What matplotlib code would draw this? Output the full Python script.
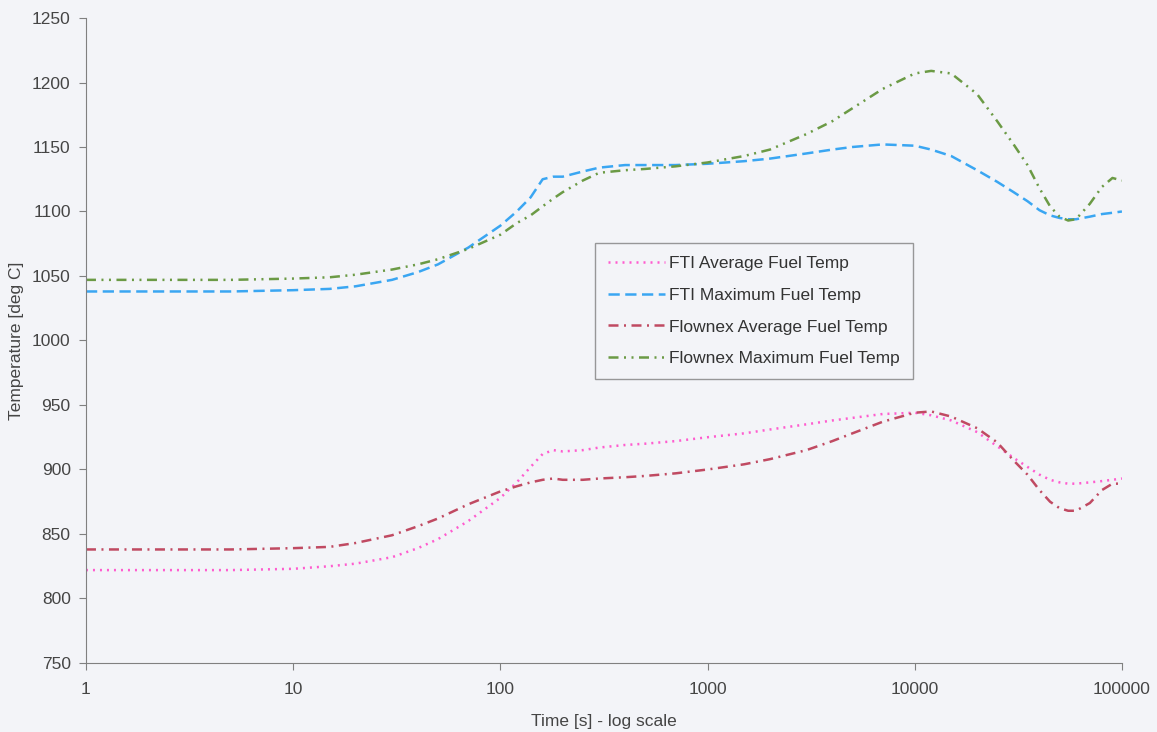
import matplotlib.pyplot as plt

plt.rcParams['font.family'] = ['Liberation Sans', 'DejaVu Sans']

# time points [s]
t = [1, 2, 5, 10, 15, 20, 30, 40, 50, 70, 100, 120, 140, 160, 180, 200, 250, 300,
     400, 500, 700, 1000, 1500, 2000, 3000, 4000, 5000, 7000, 10000, 12000, 15000,
     20000, 25000, 30000, 35000, 40000, 45000, 50000, 55000, 60000, 70000, 80000,
     90000, 100000]

fti_avg = [822, 822, 822, 823, 825, 827, 832, 839, 846, 860, 878, 890, 902, 912,
           915, 914, 915, 917, 919, 920, 922, 925, 928, 931, 935, 938, 940, 943,
           944, 942, 938, 929, 918, 909, 902, 896, 892, 890, 889, 889, 890, 891,
           892, 893]
fti_max = [1038, 1038, 1038, 1039, 1040, 1042, 1047, 1053, 1059, 1072, 1089, 1100,
           1111, 1125, 1127, 1127, 1131, 1134, 1136, 1136, 1136, 1137, 1139, 1141,
           1145, 1148, 1150, 1152, 1151, 1148, 1143, 1132, 1123, 1115, 1108, 1101,
           1097, 1095, 1094, 1094, 1096, 1098, 1099, 1100]
flx_avg = [838, 838, 838, 839, 840, 843, 849, 856, 862, 873, 883, 887, 890, 892,
           893, 892, 892, 893, 894, 895, 897, 900, 904, 908, 915, 922, 928, 937,
           944, 945, 941, 932, 921, 907, 896, 884, 875, 870, 868, 868, 874, 884,
           889, 889]
flx_max = [1047, 1047, 1047, 1048, 1049, 1051, 1055, 1059, 1063, 1071, 1082, 1091,
           1097, 1104, 1110, 1115, 1124, 1130, 1132, 1133, 1135, 1138, 1143, 1148,
           1160, 1170, 1180, 1195, 1207, 1209, 1207, 1191, 1170, 1152, 1136, 1118,
           1104, 1096, 1093, 1094, 1106, 1119, 1126, 1124]

xticks = [1, 10, 100, 1000, 10000, 100000]
yticks = list(range(750, 1251, 50))

bg = '#f3f4f8'
fs = 12.5
fig = plt.figure(figsize=(11.57, 7.32), dpi=100, facecolor=bg)
ax = fig.add_axes([0.0743, 0.0943, 0.8954, 0.8811], facecolor=bg)

ax.plot(t, fti_avg, color='#ff5ccf', lw=1.8, dashes=(0.8, 2.0),
        label='FTI Average Fuel Temp')
ax.plot(t, fti_max, color='#3aa6f2', lw=1.8, dashes=(4.5, 2.2),
        label='FTI Maximum Fuel Temp')
ax.plot(t, flx_avg, color='#c04a62', lw=1.8, dashes=(4, 2.2, 0.8, 2.2),
        label='Flownex Average Fuel Temp')
ax.plot(t, flx_max, color='#6b9a45', lw=1.8, dashes=(4, 2.2, 0.8, 2.2, 0.8, 2.2),
        label='Flownex Maximum Fuel Temp')

ax.set_xscale('log')
ax.set_xlim(1, 100000)
ax.set_ylim(750, 1250)
ax.set_xticks(xticks)
ax.set_xticklabels([str(x) for x in xticks])
ax.minorticks_off()
ax.set_yticks(yticks)

for s in ['top', 'right']:
    ax.spines[s].set_visible(False)
for s in ['left', 'bottom']:
    ax.spines[s].set_color('#808080')
ax.tick_params(direction='out', length=5, color='#808080', labelsize=fs,
               labelcolor='#454545')
ax.tick_params(axis='x', pad=9)
ax.tick_params(axis='y', pad=6)

ax.set_xlabel('Time [s] - log scale', fontsize=fs, color='#454545', labelpad=12)
ax.set_ylabel('Temperature [deg C]', fontsize=fs, color='#454545', labelpad=6)

leg = ax.legend(loc='upper left', bbox_to_anchor=(0.4915, 0.651), borderaxespad=0,
                fontsize=fs, frameon=True, fancybox=False, handlelength=3.3,
                handletextpad=0.2, labelspacing=0.95, borderpad=0.75, facecolor=bg)
leg.get_frame().set_edgecolor('#808080')
for txt in leg.get_texts():
    txt.set_color('#333333')

plt.savefig('out.png', dpi=100, facecolor=bg)
